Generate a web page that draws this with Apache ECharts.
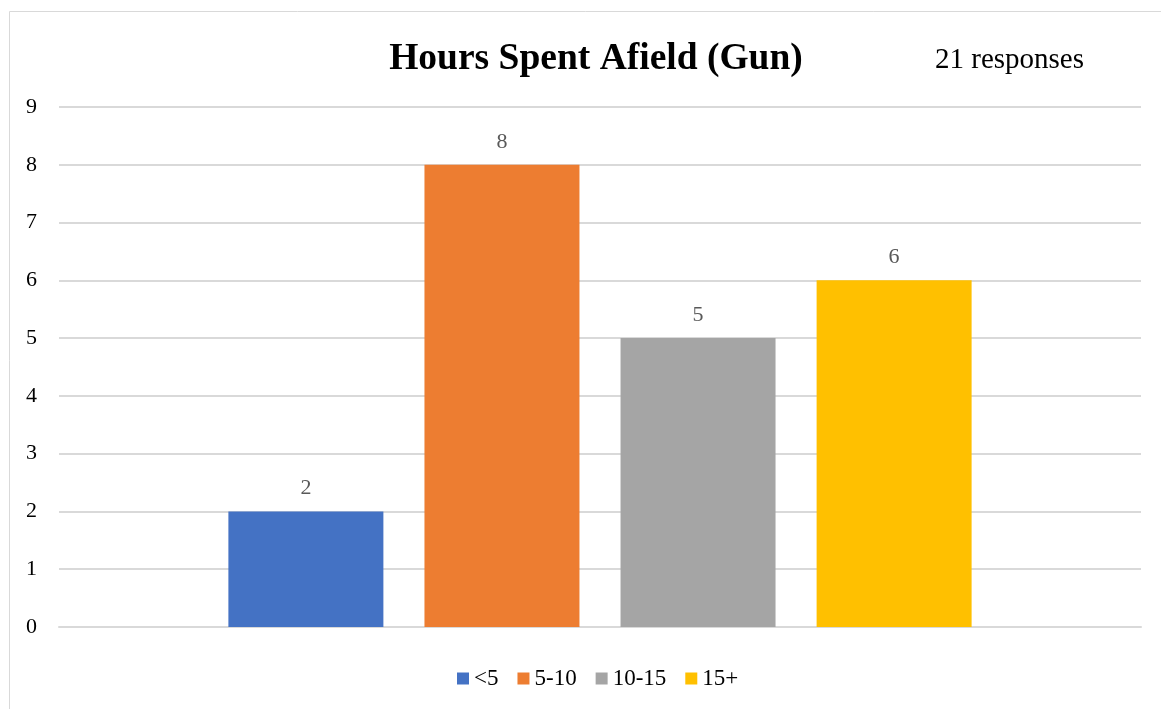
<!DOCTYPE html>
<html>
<head>
<meta charset="utf-8">
<script src="https://cdn.jsdelivr.net/npm/echarts@6/dist/echarts.min.js"></script>
<style>html,body{margin:0;padding:0;background:#fff}#c{width:1161px;height:709px}</style>
</head>
<body>
<div id="c"></div>
<script>
var seriesNames = ['<5', '5-10', '10-15', '15+'];
var seriesValues = [2, 8, 5, 6];
var seriesColors = ['#4472C4', '#ED7D31', '#A5A5A5', '#FFC000'];
var categories = [''];
var titleText = 'Hours Spent Afield (Gun)';
var subText = '21 responses';

var font = '"Liberation Serif", "Times New Roman", serif';
var chart = echarts.init(document.getElementById('c'));
chart.setOption({
  animation: false,
  textStyle: { fontFamily: font },
  graphic: [
    { type: 'rect', shape: { x: 9.5, y: 11.5, width: 1300, height: 900 }, style: { fill: 'none', stroke: '#d9d9d9', lineWidth: 1 }, silent: true },
    { type: 'text', left: 935, top: 46, style: { text: subText, fontFamily: font, fontSize: 29, fill: '#000' } }
  ],
  title: {
    text: titleText,
    left: 591, top: 35, textAlign: 'center',
    textStyle: { fontFamily: font, fontSize: 37.5, fontWeight: 'bold', color: '#000' }
  },
  legend: {
    data: seriesNames,
    bottom: 14, left: 452,
    itemWidth: 12, itemHeight: 12, itemGap: 19,
    icon: 'rect',
    textStyle: { fontFamily: font, fontSize: 23, color: '#000', padding: [0, 0, 0, 0] }
  },
  grid: { left: 59, right: 20, top: 107, bottom: 82, containLabel: false },
  xAxis: {
    type: 'category', data: categories,
    axisLine: { show: true, lineStyle: { color: '#d9d9d9', width: 2 } },
    axisTick: { show: false }, axisLabel: { show: false }
  },
  yAxis: {
    type: 'value', min: 0, max: 9, interval: 1,
    axisLine: { show: false }, axisTick: { show: false },
    axisLabel: { fontFamily: font, fontSize: 22, color: '#000', margin: 22 },
    splitLine: { lineStyle: { color: '#d9d9d9', width: 2 } }
  },
  series: seriesNames.map(function (n, i) {
    return {
      name: n, type: 'bar', data: [seriesValues[i]],
      barWidth: 155, barGap: '26.5%',
      itemStyle: { color: seriesColors[i] },
      label: { show: true, position: 'top', distance: 12, fontFamily: font, fontSize: 22, color: '#595959' }
    };
  })
});
</script>
</body>
</html>
